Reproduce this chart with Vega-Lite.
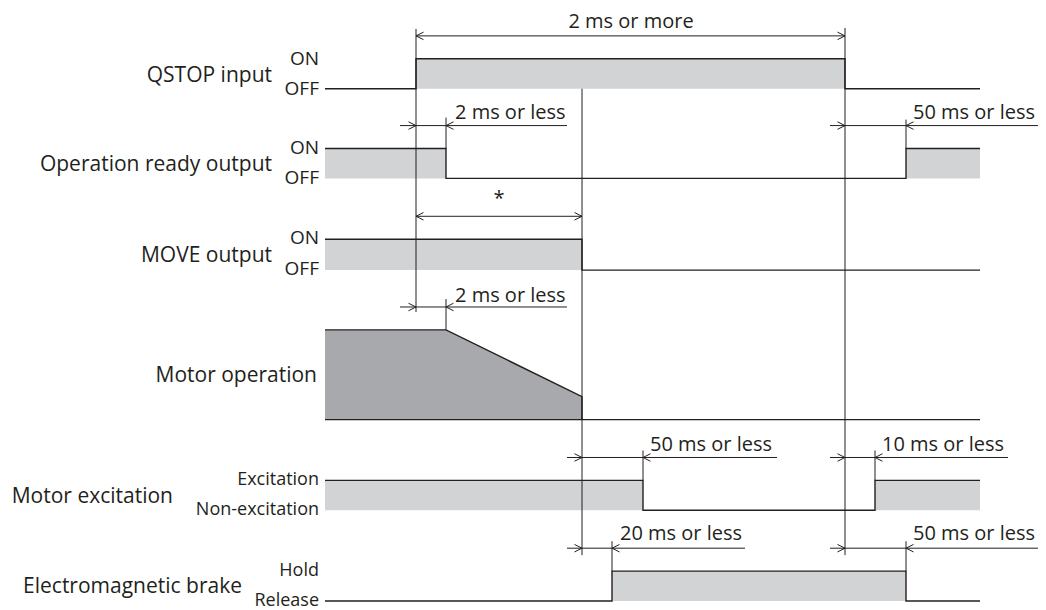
{
  "$schema": "https://vega.github.io/schema/vega-lite/v6.json",
  "width": 1046,
  "height": 610,
  "padding": 0,
  "autosize": {"type": "fit", "contains": "padding"},
  "background": "white",
  "config": {"view": {"stroke": null}, "axis": {"disable": true}},
  "datasets": {
    "fills": [
      {"signal": "QSTOP input", "t0": 416, "t1": 845, "lo": 59, "hi": 89},
      {"signal": "Operation ready output", "t0": 325, "t1": 446, "lo": 149, "hi": 179},
      {"signal": "Operation ready output", "t0": 906, "t1": 980, "lo": 149, "hi": 179},
      {"signal": "MOVE output", "t0": 325, "t1": 582, "lo": 240, "hi": 271},
      {"signal": "Motor excitation", "t0": 325, "t1": 643, "lo": 482, "hi": 512},
      {"signal": "Motor excitation", "t0": 875, "t1": 980, "lo": 482, "hi": 512},
      {"signal": "Electromagnetic brake", "t0": 612, "t1": 906, "lo": 573, "hi": 603}
    ],
    "motor": [
      {"t": 325, "top": 331, "base": 421},
      {"t": 446, "top": 331, "base": 421},
      {"t": 582, "top": 398, "base": 421}
    ],
    "waves": [
      {"signal": "QSTOP", "seq": 1, "t": 325, "v": 89},
      {"signal": "QSTOP", "seq": 2, "t": 416, "v": 89},
      {"signal": "QSTOP", "seq": 3, "t": 416, "v": 59},
      {"signal": "QSTOP", "seq": 4, "t": 845, "v": 59},
      {"signal": "QSTOP", "seq": 5, "t": 845, "v": 89},
      {"signal": "QSTOP", "seq": 6, "t": 980, "v": 89},
      {"signal": "READY", "seq": 1, "t": 325, "v": 149},
      {"signal": "READY", "seq": 2, "t": 446, "v": 149},
      {"signal": "READY", "seq": 3, "t": 446, "v": 179},
      {"signal": "READY", "seq": 4, "t": 906, "v": 179},
      {"signal": "READY", "seq": 5, "t": 906, "v": 149},
      {"signal": "READY", "seq": 6, "t": 980, "v": 149},
      {"signal": "MOVE", "seq": 1, "t": 325, "v": 240},
      {"signal": "MOVE", "seq": 2, "t": 582, "v": 240},
      {"signal": "MOVE", "seq": 3, "t": 582, "v": 271},
      {"signal": "MOVE", "seq": 4, "t": 980, "v": 271},
      {"signal": "MOTOR", "seq": 1, "t": 325, "v": 331},
      {"signal": "MOTOR", "seq": 2, "t": 446, "v": 331},
      {"signal": "MOTOR", "seq": 3, "t": 582, "v": 398},
      {"signal": "MOTOR", "seq": 4, "t": 582, "v": 421},
      {"signal": "MOTORBASE", "seq": 1, "t": 325, "v": 421},
      {"signal": "MOTORBASE", "seq": 2, "t": 980, "v": 421},
      {"signal": "EXC", "seq": 1, "t": 325, "v": 482},
      {"signal": "EXC", "seq": 2, "t": 643, "v": 482},
      {"signal": "EXC", "seq": 3, "t": 643, "v": 512},
      {"signal": "EXC", "seq": 4, "t": 875, "v": 512},
      {"signal": "EXC", "seq": 5, "t": 875, "v": 482},
      {"signal": "EXC", "seq": 6, "t": 980, "v": 482},
      {"signal": "BRAKE", "seq": 1, "t": 325, "v": 603},
      {"signal": "BRAKE", "seq": 2, "t": 612, "v": 603},
      {"signal": "BRAKE", "seq": 3, "t": 612, "v": 573},
      {"signal": "BRAKE", "seq": 4, "t": 906, "v": 573},
      {"signal": "BRAKE", "seq": 5, "t": 906, "v": 603},
      {"signal": "BRAKE", "seq": 6, "t": 980, "v": 603}
    ],
    "guides": [
      {"t": 416, "v0": 29, "v1": 313},
      {"t": 845, "v0": 28, "v1": 557},
      {"t": 582, "v0": 89, "v1": 557},
      {"t": 446, "v0": 118, "v1": 149},
      {"t": 446, "v0": 300, "v1": 331},
      {"t": 906, "v0": 120, "v1": 149},
      {"t": 643, "v0": 452, "v1": 482},
      {"t": 875, "v0": 452, "v1": 482},
      {"t": 612, "v0": 543, "v1": 573},
      {"t": 906, "v0": 543, "v1": 573}
    ],
    "dims": [
      {"v": 36, "t0": 416, "t1": 845},
      {"v": 126, "t0": 400, "t1": 567},
      {"v": 126, "t0": 830, "t1": 1038},
      {"v": 217, "t0": 416, "t1": 582},
      {"v": 308, "t0": 400, "t1": 567},
      {"v": 459, "t0": 567, "t1": 777},
      {"v": 459, "t0": 830, "t1": 1008},
      {"v": 550, "t0": 567, "t1": 745},
      {"v": 550, "t0": 830, "t1": 1038}
    ],
    "heads": [
      {"t": 416, "v": 36, "dir": "left"},
      {"t": 845, "v": 36, "dir": "right"},
      {"t": 416, "v": 126, "dir": "right"},
      {"t": 446, "v": 126, "dir": "left"},
      {"t": 845, "v": 126, "dir": "right"},
      {"t": 906, "v": 126, "dir": "left"},
      {"t": 416, "v": 217, "dir": "left"},
      {"t": 582, "v": 217, "dir": "right"},
      {"t": 416, "v": 308, "dir": "right"},
      {"t": 446, "v": 308, "dir": "left"},
      {"t": 582, "v": 459, "dir": "right"},
      {"t": 643, "v": 459, "dir": "left"},
      {"t": 845, "v": 459, "dir": "right"},
      {"t": 875, "v": 459, "dir": "left"},
      {"t": 582, "v": 550, "dir": "right"},
      {"t": 612, "v": 550, "dir": "left"},
      {"t": 845, "v": 550, "dir": "right"},
      {"t": 906, "v": 550, "dir": "left"}
    ],
    "texts": [
      {"role": "title", "text": "QSTOP input", "t": 272, "v": 82},
      {"role": "title", "text": "Operation ready output", "t": 272, "v": 172},
      {"role": "title", "text": "MOVE output", "t": 272, "v": 263},
      {"role": "title", "text": "Motor operation", "t": 317, "v": 383},
      {"role": "title", "text": "Motor excitation", "t": 173, "v": 505},
      {"role": "title", "text": "Electromagnetic brake", "t": 242, "v": 595},
      {"role": "level", "text": "ON", "t": 319, "v": 65},
      {"role": "level", "text": "OFF", "t": 319, "v": 95},
      {"role": "level", "text": "ON", "t": 319, "v": 155},
      {"role": "level", "text": "OFF", "t": 319, "v": 185},
      {"role": "level", "text": "ON", "t": 319, "v": 245},
      {"role": "level", "text": "OFF", "t": 319, "v": 276},
      {"role": "state", "text": "Excitation", "t": 319, "v": 487},
      {"role": "state", "text": "Non-excitation", "t": 319, "v": 517},
      {"role": "state", "text": "Hold", "t": 319, "v": 578},
      {"role": "state", "text": "Release", "t": 319, "v": 608},
      {"role": "dim", "text": "2 ms or less", "t": 455, "v": 119},
      {"role": "dim", "text": "50 ms or less", "t": 913, "v": 119},
      {"role": "dim", "text": "2 ms or less", "t": 455, "v": 303},
      {"role": "dim", "text": "50 ms or less", "t": 650, "v": 452},
      {"role": "dim", "text": "10 ms or less", "t": 882, "v": 452},
      {"role": "dim", "text": "20 ms or less", "t": 620, "v": 542},
      {"role": "dim", "text": "50 ms or less", "t": 913, "v": 542},
      {"role": "center", "text": "2 ms or more", "t": 631, "v": 28},
      {"role": "center", "text": "*", "t": 499, "v": 206}
    ]
  },
  "layer": [
    {
      "data": {"name": "fills"},
      "mark": {"type": "rect", "fill": "#d1d3d4"},
      "encoding": {
        "x": {"field": "t0", "type": "quantitative", "scale": {"domain": [0, 1046], "nice": false, "zero": false}},
        "x2": {"field": "t1"},
        "y": {"field": "lo", "type": "quantitative", "scale": {"domain": [0, 610], "reverse": true, "nice": false, "zero": false}},
        "y2": {"field": "hi"}
      }
    },
    {
      "data": {"name": "motor"},
      "mark": {"type": "area", "fill": "#a7a9ac", "interpolate": "linear"},
      "encoding": {
        "x": {"field": "t", "type": "quantitative", "scale": {"domain": [0, 1046], "nice": false, "zero": false}},
        "y": {"field": "top", "type": "quantitative", "scale": {"domain": [0, 610], "reverse": true, "nice": false, "zero": false}},
        "y2": {"field": "base"}
      }
    },
    {
      "data": {"name": "guides"},
      "mark": {"type": "rule", "stroke": "#231f20", "strokeWidth": 1},
      "encoding": {
        "x": {"field": "t", "type": "quantitative", "scale": {"domain": [0, 1046], "nice": false, "zero": false}},
        "y": {"field": "v0", "type": "quantitative", "scale": {"domain": [0, 610], "reverse": true, "nice": false, "zero": false}},
        "y2": {"field": "v1"}
      }
    },
    {
      "data": {"name": "dims"},
      "mark": {"type": "rule", "stroke": "#231f20", "strokeWidth": 1},
      "encoding": {
        "y": {"field": "v", "type": "quantitative", "scale": {"domain": [0, 610], "reverse": true, "nice": false, "zero": false}},
        "x": {"field": "t0", "type": "quantitative", "scale": {"domain": [0, 1046], "nice": false, "zero": false}},
        "x2": {"field": "t1"}
      }
    },
    {
      "data": {"name": "waves"},
      "mark": {"type": "line", "stroke": "#231f20", "strokeWidth": 1.4, "interpolate": "linear"},
      "encoding": {
        "x": {"field": "t", "type": "quantitative", "scale": {"domain": [0, 1046], "nice": false, "zero": false}},
        "y": {"field": "v", "type": "quantitative", "scale": {"domain": [0, 610], "reverse": true, "nice": false, "zero": false}},
        "detail": {"field": "signal"},
        "order": {"field": "seq", "type": "quantitative"}
      }
    },
    {
      "data": {"name": "heads"},
      "mark": {"type": "point", "filled": false, "stroke": "#231f20", "strokeWidth": 1, "size": 100, "opacity": 1},
      "encoding": {
        "x": {"field": "t", "type": "quantitative", "scale": {"domain": [0, 1046], "nice": false, "zero": false}},
        "y": {"field": "v", "type": "quantitative", "scale": {"domain": [0, 610], "reverse": true, "nice": false, "zero": false}},
        "shape": {"field": "dir", "type": "nominal", "legend": null, "scale": {"domain": ["right", "left"], "range": ["M-1.5,-0.75L0,0L-1.5,0.75", "M1.5,-0.75L0,0L1.5,0.75"]}}
      }
    },
    {
      "data": {"name": "texts"},
      "transform": [{"filter": "datum.role === 'title'"}],
      "mark": {"type": "text", "align": "right", "baseline": "alphabetic", "font": "Open Sans", "fontSize": 21, "fill": "#231f20"},
      "encoding": {
        "x": {"field": "t", "type": "quantitative", "scale": {"domain": [0, 1046], "nice": false, "zero": false}},
        "y": {"field": "v", "type": "quantitative", "scale": {"domain": [0, 610], "reverse": true, "nice": false, "zero": false}},
        "text": {"field": "text"}
      }
    },
    {
      "data": {"name": "texts"},
      "transform": [{"filter": "datum.role === 'level'"}],
      "mark": {"type": "text", "align": "right", "baseline": "alphabetic", "font": "Open Sans", "fontSize": 19, "fill": "#231f20"},
      "encoding": {
        "x": {"field": "t", "type": "quantitative", "scale": {"domain": [0, 1046], "nice": false, "zero": false}},
        "y": {"field": "v", "type": "quantitative", "scale": {"domain": [0, 610], "reverse": true, "nice": false, "zero": false}},
        "text": {"field": "text"}
      }
    },
    {
      "data": {"name": "texts"},
      "transform": [{"filter": "datum.role === 'state'"}],
      "mark": {"type": "text", "align": "right", "baseline": "alphabetic", "font": "Open Sans", "fontSize": 18, "fill": "#231f20"},
      "encoding": {
        "x": {"field": "t", "type": "quantitative", "scale": {"domain": [0, 1046], "nice": false, "zero": false}},
        "y": {"field": "v", "type": "quantitative", "scale": {"domain": [0, 610], "reverse": true, "nice": false, "zero": false}},
        "text": {"field": "text"}
      }
    },
    {
      "data": {"name": "texts"},
      "transform": [{"filter": "datum.role === 'dim'"}],
      "mark": {"type": "text", "align": "left", "baseline": "alphabetic", "font": "Open Sans", "fontSize": 20, "fill": "#231f20"},
      "encoding": {
        "x": {"field": "t", "type": "quantitative", "scale": {"domain": [0, 1046], "nice": false, "zero": false}},
        "y": {"field": "v", "type": "quantitative", "scale": {"domain": [0, 610], "reverse": true, "nice": false, "zero": false}},
        "text": {"field": "text"}
      }
    },
    {
      "data": {"name": "texts"},
      "transform": [{"filter": "datum.role === 'center'"}],
      "mark": {"type": "text", "align": "center", "baseline": "alphabetic", "font": "Open Sans", "fontSize": 20, "fill": "#231f20"},
      "encoding": {
        "x": {"field": "t", "type": "quantitative", "scale": {"domain": [0, 1046], "nice": false, "zero": false}},
        "y": {"field": "v", "type": "quantitative", "scale": {"domain": [0, 610], "reverse": true, "nice": false, "zero": false}},
        "text": {"field": "text"}
      }
    }
  ]
}
